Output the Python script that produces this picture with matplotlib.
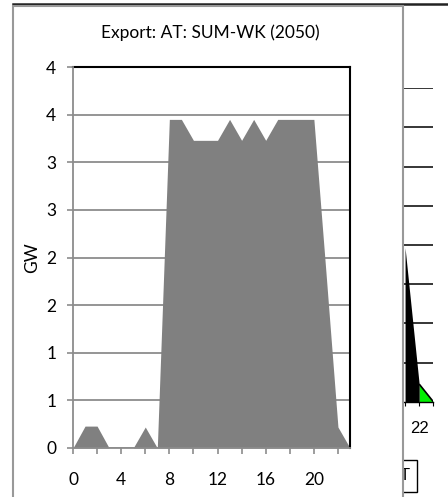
import matplotlib
matplotlib.use("Agg")
import matplotlib.pyplot as plt
from matplotlib.patches import Rectangle
from matplotlib.lines import Line2D
from matplotlib.ticker import FixedLocator, FixedFormatter

# ---- data ----
hours = list(range(24))
export_gw = [0.0, 0.23, 0.23, 0.0, 0.0, 0.0, 0.22, 0.0,
             3.45, 3.45, 3.23, 3.23, 3.23, 3.45, 3.23, 3.45,
             3.23, 3.45, 3.45, 3.45, 3.45, 1.85, 0.22, 0.0]
y_ticks = [0, 0.5, 1.0, 1.5, 2.0, 2.5, 3.0, 3.5, 4.0]
y_tick_labels = ["0", "1", "1", "2", "2", "3", "3", "4", "4"]
x_major = [0, 4, 8, 12, 16, 20]
x_minor = [2, 6, 10, 14, 18, 22]
title = "Export: AT: SUM-WK (2050)"
ylabel = "GW"

# partially hidden neighbouring chart
nb_hours_black = [21, 22]
nb_black = [3.93, 0.45]
nb_hours_green = [22, 23]
nb_green = [0.45, 0.0]
nb_ticks = [21, 22, 23]
nb_tick_labels = ["", "22", ""]
nb_legend_text = "T"

W, H = 448, 497
fig = plt.figure(figsize=(W / 100, H / 100), dpi=100)
fig.patch.set_facecolor("white")

def fx(x):
    return x / W

def fy(y):
    return 1 - y / H

def pbox(x0, y0, x1, y1):
    return [fx(x0), fy(y1), fx(x1) - fx(x0), fy(y0) - fy(y1)]

FONT = ["Lato", "DejaVu Sans"]
GRAY = "#8c8c8c"

# ---- neighbouring chart (mostly covered) ----
ax2 = fig.add_axes(pbox(362.7, 88.3, 433.3, 401.7))
ax2.set_zorder(0)
ax2.set_xlim(18, 23)
ax2.set_ylim(0, 8)
ax2.fill_between(nb_hours_green, nb_green, 0, color="#00ee00", linewidth=0)
ax2.plot(nb_hours_green, nb_green, color="black", linewidth=1.2, solid_capstyle="butt")
ax2.fill_between(nb_hours_black, nb_black, 0, color="black", linewidth=0)
ax2.set_yticks(range(1, 9))
ax2.yaxis.grid(True, color="black", linewidth=1.1)
ax2.set_axisbelow(True)
for s in ["top", "right", "left"]:
    ax2.spines[s].set_visible(False)
ax2.spines["bottom"].set_color("black")
ax2.spines["bottom"].set_linewidth(1.0)
ax2.tick_params(axis="y", left=False, labelleft=False)
ax2.set_xticks(nb_ticks)
ax2.set_xticklabels(nb_tick_labels, fontfamily=["Liberation Sans"], fontsize=12)
ax2.tick_params(axis="x", direction="out", length=3, color="black", pad=11)
ax2.patch.set_visible(False)

# legend box of neighbouring chart
fig.add_artist(Rectangle((fx(395), fy(491.7)), fx(417.3) - fx(395), fy(460) - fy(491.7),
                         transform=fig.transFigure, facecolor="white", edgecolor="black",
                         linewidth=1.0, zorder=0.5))
fig.text(fx(410), fy(476), nb_legend_text, ha="right", va="center",
         fontfamily=["Liberation Sans"], fontsize=12, zorder=0.6)

# top line of neighbouring chart area
fig.add_artist(Line2D([fx(12.7), 1.0], [fy(3.5), fy(3.5)], transform=fig.transFigure,
                      color="#222222", linewidth=1.8, zorder=0.7))

# ---- main chart area (covers neighbour) ----
fig.add_artist(Rectangle((fx(12.7), fy(520)), fx(403.3) - fx(12.7), fy(5.5) - fy(520),
                         transform=fig.transFigure, facecolor="white", edgecolor="#999999",
                         linewidth=1.5, zorder=1))

ax = fig.add_axes(pbox(73, 67, 350, 448))
ax.set_zorder(2)
ax.fill_between(hours, export_gw, 0, color="#808080", linewidth=0, zorder=2)
ax.set_xlim(0, 23)
ax.set_ylim(0, 4.0)
ax.yaxis.set_major_locator(FixedLocator(y_ticks))
ax.yaxis.set_major_formatter(FixedFormatter(y_tick_labels))
ax.yaxis.grid(True, color=GRAY, linewidth=1.3)
ax.set_axisbelow(True)
ax.xaxis.set_major_locator(FixedLocator(x_major))
ax.xaxis.set_major_formatter(FixedFormatter([str(v) for v in x_major]))
ax.xaxis.set_minor_locator(FixedLocator(x_minor))
for s in ["top", "right"]:
    ax.spines[s].set_color("black")
    ax.spines[s].set_linewidth(1.5)
for s in ["left", "bottom"]:
    ax.spines[s].set_color(GRAY)
    ax.spines[s].set_linewidth(1.3)
    ax.spines[s].set_zorder(3)
ax.tick_params(axis="y", direction="out", length=4, width=1.2, color=GRAY, pad=8,
               labelsize=12.5)
ax.tick_params(axis="x", which="both", direction="out", length=4, width=1.2, color=GRAY,
               pad=13, labelsize=12.5)
for lab in ax.get_xticklabels() + ax.get_yticklabels():
    lab.set_fontfamily(FONT)

fig.text(fx(31.7), fy(257.5), ylabel, rotation=90, ha="center", va="center",
         fontfamily=FONT, fontsize=12.5, zorder=3)
fig.text(fx(210), fy(33), title, ha="center", va="center", fontfamily=FONT,
         fontsize=12.5, zorder=3)

fig.savefig("out.png", dpi=100, facecolor="white")
